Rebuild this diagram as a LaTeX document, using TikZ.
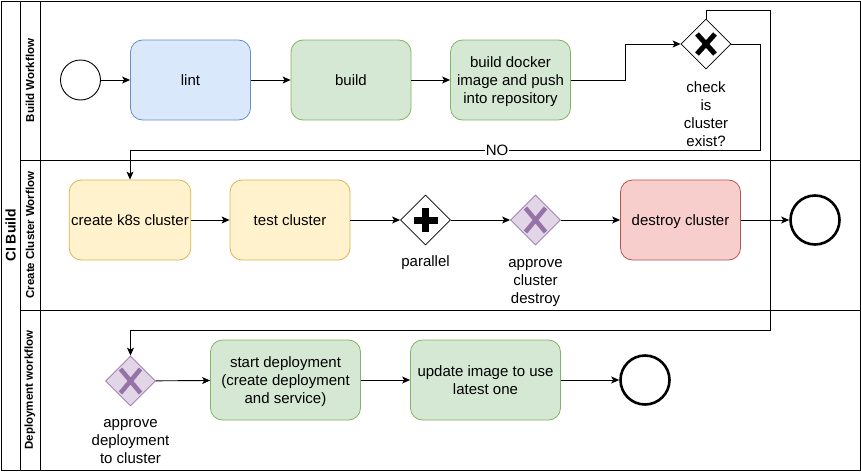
\documentclass[tikz,border=0pt]{standalone}
\usepackage{fontspec}
\setmainfont{Liberation Sans}
\usetikzlibrary{shapes.geometric,arrows.meta,calc}
\definecolor{blueF}{HTML}{DAE8FC}\definecolor{blueD}{HTML}{6C8EBF}
\definecolor{greenF}{HTML}{D5E8D4}\definecolor{greenD}{HTML}{82B366}
\definecolor{yelF}{HTML}{FFF2CC}\definecolor{yelD}{HTML}{D6B656}
\definecolor{redF}{HTML}{F8CECC}\definecolor{redD}{HTML}{B85450}
\definecolor{purF}{HTML}{E1D5E7}\definecolor{purD}{HTML}{9673A6}
\tikzset{
  task/.style={draw, rounded corners=12pt, minimum width=120pt, minimum height=80pt, inner sep=2pt, align=center, font=\fontsize{15}{18}\selectfont, line width=0.8pt, text depth=0pt},
  gw/.style={draw, diamond, aspect=1, minimum width=50pt, minimum height=50pt, inner sep=0pt, line width=0.8pt},
  lbl/.style={align=center, font=\fontsize{15}{18}\selectfont, inner sep=0pt},
  arr/.style={line width=0.9pt, -{Stealth[length=8pt,width=7pt,inset=2pt]}},
  lanetitle/.style={rotate=90, font=\fontsize{11.5}{13}\selectfont\bfseries, inner sep=0pt},
  evstart/.style={draw, circle, minimum size=40pt, inner sep=0pt, line width=0.9pt},
  evend/.style={draw, circle, minimum size=49pt, inner sep=0pt, line width=2.6pt},
  frame/.style={line width=0.9pt}
}
\begin{document}
\begin{tikzpicture}[x=1pt,y=-1pt]
\useasboundingbox (0,0) rectangle (861,471);
% pool and lanes
\draw[frame] (1,1) rectangle (860,470);
\draw[frame] (20,1) -- (20,470);
\draw[frame] (40,1) -- (40,470);
\draw[frame] (20,160) -- (860,160);
\draw[frame] (20,310) -- (860,310);
\node[rotate=90, font=\fontsize{14}{16}\selectfont\bfseries, inner sep=0pt] (pooltitle) at (10.5,235.5) {CI Build};
\node[lanetitle] (lane1) at (30,80.5) {Build Workflow};
\node[lanetitle] (lane2) at (30,235) {Create Cluster Worflow};
\node[lanetitle] (lane3) at (30,390) {Deployment workflow};

% lane 1
\node[evstart] (start) at (80.5,80) {};
\node[task, fill=blueF, draw=blueD] (lint) at (190.5,80) {lint};
\node[task, fill=greenF, draw=greenD] (build) at (351,80) {build};
\node[task, fill=greenF, draw=greenD] (docker) at (510.5,80) {build docker\\image and push\\into repository};
\node[gw] (gw1) at (706,44) {};
\draw[line width=5pt] ($(gw1)+(-9,-10)$) -- ($(gw1)+(9,10)$) ($(gw1)+(9,-10)$) -- ($(gw1)+(-9,10)$);
\node[lbl, anchor=north] (gw1lbl) at (706,81) {check\\is\\cluster\\exist?};

% lane 2
\node[task, fill=yelF, draw=yelD] (k8s) at (130,220) {create k8s cluster};
\node[task, fill=yelF, draw=yelD] (test) at (290,220) {test cluster};
\node[gw] (par) at (425.5,220) {};
\fill ($(par)+(-12,-3.5)$) rectangle ($(par)+(12,3.5)$);
\fill ($(par)+(-3.5,-12)$) rectangle ($(par)+(3.5,12)$);
\node[lbl, anchor=north] (parlbl) at (425.5,255) {parallel};
\node[gw, fill=purF, draw=purD] (apc) at (535.5,220) {};
\draw[purD, line width=4.5pt] ($(apc)+(-10,-12)$) -- ($(apc)+(10,12)$) ($(apc)+(10,-12)$) -- ($(apc)+(-10,12)$);
\node[lbl, anchor=north] (apclbl) at (535.5,259) {approve\\cluster\\destroy};
\node[task, fill=redF, draw=redD] (destroy) at (680.5,220) {destroy cluster};
\node[evend] (end1) at (815,220) {};

% lane 3
\node[gw, fill=purF, draw=purD] (apd) at (130.5,381) {};
\draw[purD, line width=4.5pt] ($(apd)+(-10,-12)$) -- ($(apd)+(10,12)$) ($(apd)+(10,-12)$) -- ($(apd)+(-10,12)$);
\node[lbl, anchor=north] (apdlbl) at (130.5,419) {approve\\deployment\\to cluster};
\node[task, fill=greenF, draw=greenD, minimum width=150pt] (deploy) at (285.5,380) {start deployment\\(create deployment\\and service)};
\node[task, fill=greenF, draw=greenD, minimum width=150pt] (update) at (485.5,380) {update image to use\\latest one};
\node[evend] (end2) at (645,380) {};

% connectors
\draw[arr] (start) -- (lint);
\draw[arr] (lint) -- (build);
\draw[arr] (build) -- (docker);
\coordinate (b1) at (625,80);
\draw[arr] (docker.east) -- (b1) |- (gw1.west);
\coordinate (y1) at (770,10);
\coordinate (y2) at (770,330);
\draw[arr] (gw1.north) |- (y1) -- (y2) -| (apd.north);
\coordinate (n1) at (760,44);
\coordinate (n2) at (760,150);
\draw[arr] (gw1.east) -- (n1) -- (n2) -| (k8s.north);
\node[fill=white, font=\fontsize{15}{18}\selectfont, inner sep=1pt] (nolbl) at (497,150) {NO};
\draw[arr] (k8s) -- (test);
\draw[arr] (test) -- (par);
\draw[arr] (par) -- (apc);
\draw[arr] (apc) -- (destroy);
\draw[arr] (destroy) -- (end1);
\draw[arr] (apd) -- (deploy);
\draw[arr] (deploy) -- (update);
\draw[arr] (update) -- (end2);
\end{tikzpicture}
\end{document}
